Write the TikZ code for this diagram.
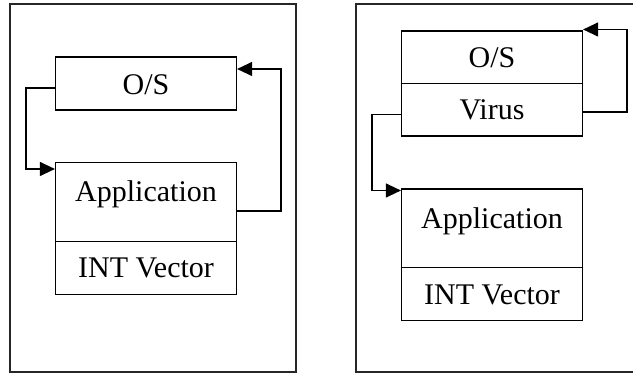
\documentclass[tikz,border=0pt]{standalone}
\usepackage{fontspec}
\setmainfont{Liberation Serif}
\usetikzlibrary{arrows.meta}
\begin{document}
\begin{tikzpicture}[x=1pt,y=-1pt,
  frame/.style={draw=black!85,line width=1.1pt},
  box/.style={draw,line width=1.2pt,rectangle,inner sep=0pt},
  lbl/.style={font=\fontsize{30}{36}\selectfont,inner sep=0pt,anchor=base},
  conn/.style={line width=1.2pt,-{Triangle[length=15pt,width=14pt]}}]
\useasboundingbox (0,0) rectangle (633,374);
% frames
\draw[frame] (10,4) rectangle (296,372);
\draw[frame] (633,4) -- (356,4) -- (356,372) -- (633,372);
% left diagram
\node[box,minimum width=181pt,minimum height=53pt] (os1) at (146,83.5) {};
\node[box,minimum width=181pt,minimum height=79pt] (app1) at (146,202) {};
\node[box,minimum width=181pt,minimum height=52.5pt] (int1) at (146,268) {};
\node[lbl] (t1) at (146,95) {O/S};
\node[lbl] (t2) at (146,202) {Application};
\node[lbl] (t3) at (146,278) {INT Vector};
\coordinate (a1) at (app1.east |- 0,211);
\coordinate (o1) at (os1.east |- 0,69);
\draw[conn] (a1) -- (281,211) -- (281,69) -- (o1);
\coordinate (s1) at (os1.west |- 0,88);
\coordinate (e1) at (app1.west |- 0,169);
\draw[conn] (s1) -- (26,88) -- (26,169) -- (e1);
% right diagram
\node[box,minimum width=181pt,minimum height=52.3pt] (os2) at (492,57.2) {};
\node[box,minimum width=181pt,minimum height=52.7pt] (vir) at (492,109.7) {};
\node[box,minimum width=181pt,minimum height=78.7pt] (app2) at (492,228.3) {};
\node[box,minimum width=181pt,minimum height=53pt] (int2) at (492,294.2) {};
\node[lbl] (u1) at (492,68) {O/S};
\node[lbl] (u2) at (492,120) {Virus};
\node[lbl] (u3) at (492,228.5) {Application};
\node[lbl] (u4) at (492,305) {INT Vector};
\coordinate (v1) at (vir.east |- 0,112);
\coordinate (o2) at (os2.east |- 0,29.5);
\draw[conn] (v1) -- (627,112) -- (627,29.5) -- (o2);
\coordinate (v2) at (vir.west |- 0,114.5);
\coordinate (e2) at (app2.west |- 0,190.5);
\draw[conn] (v2) -- (372,114.5) -- (372,190.5) -- (e2);
\end{tikzpicture}
\end{document}
